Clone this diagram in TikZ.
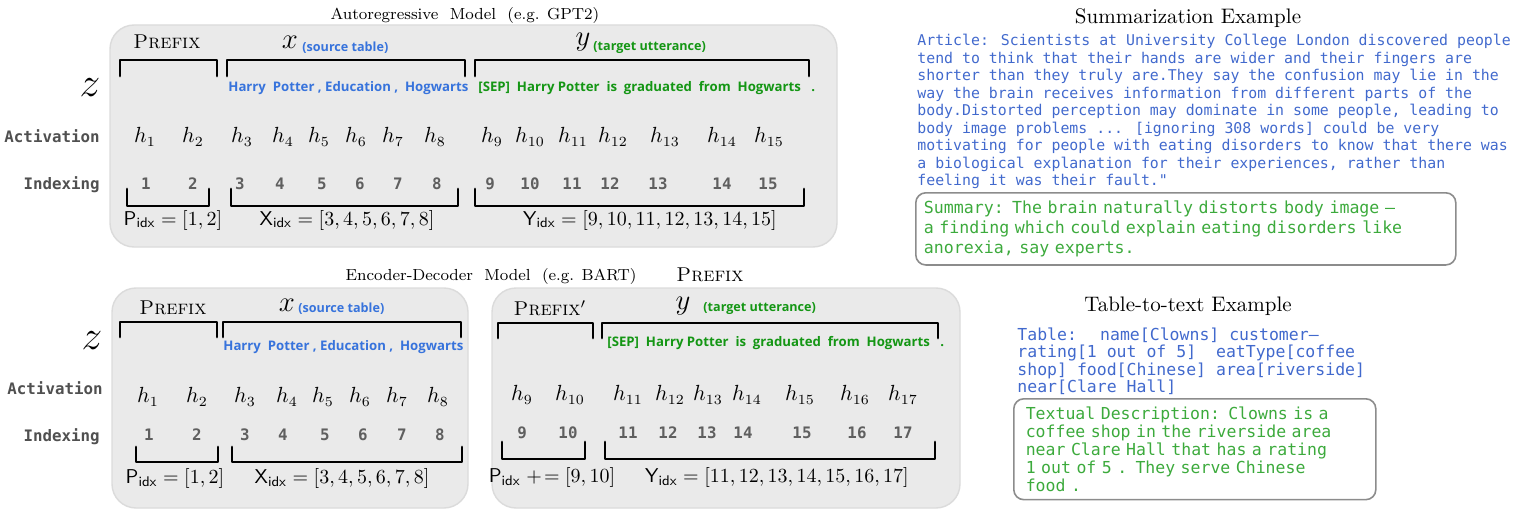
\documentclass[tikz,border=0pt]{standalone}
\usepackage{amsmath}
\usepackage{fontspec}
\usepackage{xcolor}
\usetikzlibrary{positioning, calc}

\newfontfamily\codefont{DejaVu Sans Mono}
\newfontfamily\tokfont{Open Sans}

\definecolor{panelgray}{RGB}{234,234,234}
\definecolor{tokblue}{RGB}{55,115,220}
\definecolor{tokgreen}{RGB}{20,150,20}
\definecolor{artblue}{RGB}{65,105,205}
\definecolor{sumgreen}{RGB}{60,170,60}
\definecolor{lblgray}{RGB}{80,80,80}
\definecolor{idxgray}{RGB}{95,95,95}

\begin{document}
\begin{tikzpicture}[
    x=0.5pt, y=-0.5pt,
    panel/.style={draw=black!14, line width=0.7pt, fill=panelgray, rounded corners=12pt},
    heading/.style={font=\fontsize{8}{10}\selectfont, inner sep=0pt},
    extitle/.style={font=\fontsize{10.5}{13}\selectfont, inner sep=0pt},
    prefixlbl/.style={font=\fontsize{10}{12}\selectfont, inner sep=0pt},
    seqvar/.style={font=\fontsize{15}{18}\selectfont, inner sep=0pt},
    zvar/.style={font=\fontsize{20}{24}\selectfont, inner sep=0pt},
    tok/.style={font=\tokfont\bfseries\fontsize{6.6}{7}\selectfont, text=#1, inner sep=0pt, anchor=west},
    note/.style={font=\tokfont\bfseries\fontsize{6.3}{7}\selectfont, text=#1, inner sep=0pt, anchor=west},
    rowlbl/.style={font=\codefont\bfseries\fontsize{7.9}{9}\selectfont, text=lblgray, inner sep=0pt, anchor=east},
    act/.style={font=\fontsize{10.5}{12}\selectfont, inner sep=0pt},
    idx/.style={font=\codefont\bfseries\fontsize{7.9}{9}\selectfont, text=idxgray, inner sep=0pt},
    idxset/.style={font=\fontsize{10}{12}\selectfont, inner sep=0pt},
    brace/.style={line width=1.4pt, line cap=round, line join=round},
    article/.style={font=\codefont\fontsize{7.43}{8.75}\selectfont, text=artblue, align=left, inner sep=0pt, anchor=north west},
    tabletext/.style={font=\codefont\fontsize{8.25}{8.75}\selectfont, text=artblue, align=left, inner sep=0pt, anchor=north west},
    answer/.style={draw=black!45, line width=0.8pt, rounded corners=5pt, text=sumgreen, align=left, anchor=north west, inner ysep=4pt},
]
    \useasboundingbox (0,0) rectangle (1526,519);

    % Autoregressive model
    \node[heading] (arTitle) at (465,16) {Autoregressive\ \ Model\ \ (e.g. GPT2)};
    \draw[panel] (110,25) rectangle (837,247);

    \node[prefixlbl] (arPrefix) at (167,42) {\textsc{Prefix}};
    \node[seqvar] (arX) at (290,42) {$x$};
    \node[note=tokblue] (arXnote) at (302,48) {(source table)};
    \node[seqvar] (arY) at (583,42) {$y$};
    \node[note=tokgreen] (arYnote) at (593,48) {(target utterance)};

    \draw[brace] (120,76) |- (217,60) -- (217,76);
    \draw[brace] (227,76) |- (465,60) -- (465,76);
    \draw[brace] (475,76) |- (809,60) -- (809,76);

    \node[zvar] (arZ) at (90,88) {$z$};
    \node[tok=tokblue] (arSrc) at (228,88) {Harry\ \ Potter , Education ,\ \ Hogwarts};
    \node[tok=tokgreen] (arTgt) at (478,88) {[SEP]\ \ Harry Potter\ \ is\ \ graduated\ \ from\ \ Hogwarts\ \ \ .};

    \node[rowlbl] (arAct) at (100,136) {Activation};
    \node[rowlbl] (arIdx) at (100,185) {Indexing};
    \foreach \i/\x in {1/145,2/193,3/242,4/283,5/319,6/356,7/393,8/435,9/492,10/530,11/573,12/613,13/665,14/722,15/769}
        \node[act] (arH\i) at (\x,137) {$h_{\i}$};
    \foreach \i/\x in {1/146,2/193,3/240,4/280,5/322,6/360,7/398,8/437,9/490,10/530,11/572,12/610,13/658,14/722,15/768}
        \node[idx] (arN\i) at (\x,184) {\i};

    \draw[brace] (127,189) |- (209,206) -- (209,189);
    \draw[brace] (231,189) |- (458,206) -- (458,189);
    \draw[brace] (475,189) |- (804,206) -- (804,189);

    \node[idxset] (arPset) at (173,220) {$\mathsf{P}_{\mathsf{idx}} = [1,2]$};
    \node[idxset] (arXset) at (347,220) {$\mathsf{X}_{\mathsf{idx}} = [3,4,5,6,7,8]$};
    \node[idxset] (arYset) at (650,220) {$\mathsf{Y}_{\mathsf{idx}} = [9,10,11,12,13,14,15]$};

    % Encoder-decoder model
    \node[heading] (edTitle) at (491,276) {Encoder-Decoder\ \ Model\ \ (e.g. BART)};
    \node[prefixlbl] (edPrefix) at (710,275) {\textsc{Prefix}};
    \draw[panel] (112,288) rectangle (468,508);
    \draw[panel] (492,288) rectangle (960,508);

    % encoder side
    \node[prefixlbl] (encPrefix) at (173,308) {\textsc{Prefix}};
    \node[seqvar] (encX) at (287,305) {$x$};
    \node[note=tokblue] (encXnote) at (298,309) {(source table)};
    \draw[brace] (120,337) |- (217,322) -- (217,337);
    \draw[brace] (223,337) |- (461,322) -- (461,337);
    \node[zvar] (encZ) at (92,341) {$z$};
    \node[tok=tokblue] (encSrc) at (223,347) {Harry\ \ Potter , Education ,\ \ Hogwarts};

    \node[rowlbl] (encAct) at (103,388) {Activation};
    \node[rowlbl] (encIdx) at (100,437) {Indexing};
    \foreach \i/\x in {1/148,2/197,3/245,4/287,5/323,6/360,7/397,8/438}
        \node[act] (encH\i) at (\x,397) {$h_{\i}$};
    \foreach \i/\x in {1/149,2/197,3/245,4/283,5/325,6/363,7/402,8/440}
        \node[idx] (encN\i) at (\x,435) {\i};

    \draw[brace] (136,447) |- (218,462) -- (218,447);
    \draw[brace] (232,447) |- (462,462) -- (462,447);
    \node[idxset] (encPset) at (175,478) {$\mathsf{P}_{\mathsf{idx}} = [1,2]$};
    \node[idxset] (encXset) at (342,478) {$\mathsf{X}_{\mathsf{idx}} = [3,4,5,6,7,8]$};

    % decoder side
    \node[prefixlbl] (decPrefix) at (550,308) {\textsc{Prefix}$'$};
    \node[seqvar] (decY) at (683,306) {$y$};
    \node[note=tokgreen] (decYnote) at (703,309) {(target utterance)};
    \draw[brace] (498,338) |- (593,323) -- (593,338);
    \draw[brace] (602,338) |- (938,323) -- (938,338);
    \node[tok=tokgreen] (decTgt) at (607,343) {[SEP]\ \ Harry Potter\ \ is\ \ graduated\ \ from\ \ Hogwarts\ \ \ .};

    \foreach \i/\x in {9/522,10/570,11/628,12/670,13/708,14/747,15/800,16/855,17/903}
        \node[act] (decH\i) at (\x,395) {$h_{\i}$};
    \foreach \i/\x in {9/522,10/568,11/628,12/668,13/707,14/743,15/802,16/857,17/903}
        \node[idx] (decN\i) at (\x,433) {\i};

    \draw[brace] (502,442) |- (585,459) -- (585,442);
    \draw[brace] (605,442) |- (935,459) -- (935,442);
    \node[idxset] (decPset) at (552,477) {$\mathsf{P}_{\mathsf{idx}} \mathrel{+\!=} [9,10]$};
    \node[idxset] (decYset) at (777,477) {$\mathsf{Y}_{\mathsf{idx}} = [11,12,13,14,15,16,17]$};

    % Summarization example
    \node[extitle] (sumTitle) at (1188,18) {Summarization Example};
    \node[article] (article) at (917,34) {Article: Scientists at University College London discovered people\\
tend to think that their hands are wider and their fingers are\\
shorter than they truly are.They say the confusion may lie in the\\
way the brain receives information from different parts of the\\
body.Distorted perception may dominate in some people, leading to\\
body image problems ... [ignoring 308 words] could be very\\
motivating for people with eating disorders to know that there was\\
a biological explanation for their experiences, rather than\\
feeling it was their fault."};
    \node[answer, font=\codefont\fontsize{8.3}{10}\selectfont, text width=262pt, inner xsep=4pt] (summary) at (915,192) {Summary: The brain naturally distorts body image –\\
a finding which could explain eating disorders like\\
anorexia, say experts.};

    % Table-to-text example
    \node[extitle] (tabTitle) at (1188,306) {Table-to-text Example};
    \node[tabletext] (table) at (1017,327) {Table:~ name[Clowns] customer–\\
rating[1 out of 5]~ eatType[coffee\\
shop] food[Chinese] area[riverside]\\
near[Clare Hall]};
    \node[answer, font=\codefont\fontsize{8.25}{9}\selectfont, text width=169pt, inner xsep=6pt] (desc) at (1013,398) {Textual Description: Clowns is a\\
coffee shop in the riverside area\\
near Clare Hall that has a rating\\
1 out of 5 . They serve Chinese\\
food .};

\end{tikzpicture}
\end{document}
